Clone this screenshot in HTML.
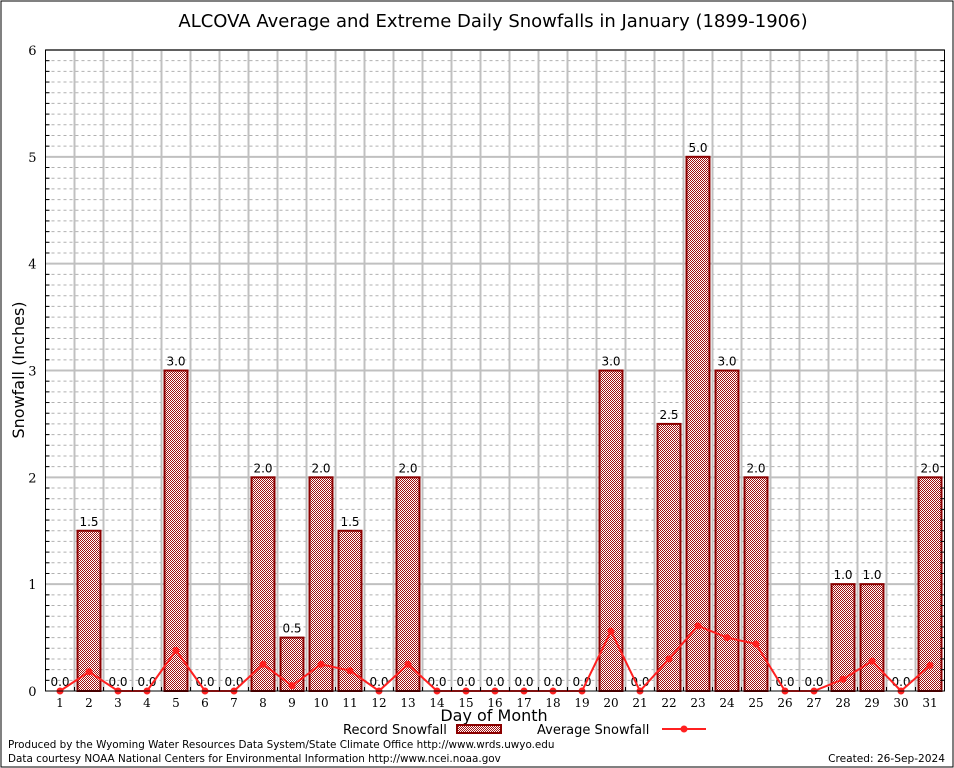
<!DOCTYPE html>
<html><head><meta charset="utf-8"><style>
body{margin:0;background:#fff;}
svg{display:block;font-family:"DejaVu Sans","Liberation Sans",sans-serif;}
</style></head><body>
<svg id="chart" width="954" height="768" viewBox="0 0 954 768">
<defs>
<pattern id="chk" width="2" height="2" patternUnits="userSpaceOnUse">
<rect width="2" height="2" fill="#fff"/>
<rect width="1" height="1" fill="#a01010"/>
<rect x="1" y="1" width="1" height="1" fill="#a01010"/>
</pattern>
</defs>
<rect x="1" y="1" width="952" height="766" fill="#fff" stroke="#000" stroke-width="1"/>
<text x="493" y="27" font-size="18" text-anchor="middle">ALCOVA Average and Extreme Daily Snowfalls in January (1899-1906)</text>
<g id="grid"></g>
<g id="bars"></g>
<g id="line"></g>
<g id="axes"></g>
<text x="24" y="370" font-size="16" text-anchor="middle" transform="rotate(-90 24 370)">Snowfall (Inches)</text>
<text x="494" y="721" font-size="16" text-anchor="middle">Day of Month</text>
<g>
<text x="343" y="734" font-size="13">Record Snowfall</text>
<rect x="457" y="725" width="44" height="8" fill="url(#chk)" stroke="#8b0000" stroke-width="2"/>
<text x="537" y="734" font-size="13">Average Snowfall</text>
<line x1="662" y1="729" x2="706" y2="729" stroke="#ff2020" stroke-width="2"/>
<circle cx="684" cy="729" r="3.5" fill="#ff2020"/>
</g>
<text x="8" y="748" font-size="10.4">Produced by the Wyoming Water Resources Data System/State Climate Office http://www.wrds.uwyo.edu</text>
<text x="8" y="762" font-size="10.4">Data courtesy NOAA National Centers for Environmental Information http://www.ncei.noaa.gov</text>
<text x="945" y="762" font-size="10.6" text-anchor="end">Created: 26-Sep-2024</text>
</svg>
<script>
const days = [1,2,3,4,5,6,7,8,9,10,11,12,13,14,15,16,17,18,19,20,21,22,23,24,25,26,27,28,29,30,31];
const recordSnow = [0,1.5,0,0,3,0,0,2,0.5,2,1.5,0,2,0,0,0,0,0,0,3,0,2.5,5,3,2,0,0,1,1,0,2];
const avgSnow = [0,0.18,0,0,0.38,0,0,0.25,0.05,0.25,0.19,0,0.25,0,0,0,0,0,0,0.56,0,0.30,0.61,0.50,0.44,0,0,0.11,0.28,0,0.24];
const yTicks = [0,1,2,3,4,5,6];

const NS="http://www.w3.org/2000/svg";
const L=45.5,R=944.5,T=50,B=691;
const yMax=6;
function xS(d){return L+(d-0.5)*(R-L)/days.length;}
function yS(v){return B-v*(B-T)/yMax;}
function mk(tag,attrs,parent){const e=document.createElementNS(NS,tag);for(const k in attrs)e.setAttribute(k,attrs[k]);parent.appendChild(e);return e;}
const grid=document.getElementById('grid'),bars=document.getElementById('bars'),line=document.getElementById('line'),axes=document.getElementById('axes');

for(let i=1;i<yMax*10;i++){
  if(i%10===0)continue;
  const g=mk('line',{x1:L,x2:R,y1:yS(i/10),y2:yS(i/10),stroke:'#b0b0b0','stroke-width':1,'stroke-dasharray':'3,3'},grid);
  
  
}
yTicks.forEach(v=>{
  if(v>0){const g=mk('line',{x1:L,x2:R,y1:yS(v),y2:yS(v),stroke:'#c0c0c0','stroke-width':2},grid);
  
  }
  const t=mk('text',{x:L-9,y:yS(v)+5,'font-size':13,'text-anchor':'end','font-family':'"DejaVu Serif","Liberation Serif",serif'},axes);
  t.textContent=v;
  
  
  for(let m=1;m<10&&v<yMax;m++){
    const yy=yS(v+m/10);
    mk('line',{x1:L,x2:L+4,y1:yy,y2:yy,stroke:'#000'},axes);mk('line',{x1:R,x2:R-4,y1:yy,y2:yy,stroke:'#000'},axes);
  }
});
days.forEach((d,i)=>{
  if(i>0){const g=mk('line',{x1:xS(d)-14.5,x2:xS(d)-14.5,y1:T,y2:B,stroke:'#c0c0c0','stroke-width':2},grid);
  
  }
  const v=recordSnow[i];
  if(v>0){
    const b=mk('rect',{x:xS(d)-11.5,y:yS(v),width:23,height:B-yS(v),fill:'url(#chk)',stroke:'#8b0000','stroke-width':2},bars);
    
    
  }
  const lb=mk('text',{x:xS(d),y:yS(v)-5,'font-size':12,'text-anchor':'middle'},bars);
  lb.textContent=v.toFixed(1);
  
  
  const xt=mk('text',{x:xS(d),y:B+16,'font-size':12,'text-anchor':'middle','font-family':'"DejaVu Serif","Liberation Serif",serif'},axes);
  xt.textContent=d;
  
  
  mk('line',{x1:xS(d)-14.5,x2:xS(d)-14.5,y1:B,y2:B-4,stroke:'#000'},axes);
});
const pts=days.map((d,i)=>xS(d)+','+yS(avgSnow[i])).join(' ');
const pl=mk('polyline',{points:pts,fill:'none',stroke:'#ff2020','stroke-width':2},line);


days.forEach((d,i)=>{
  const c=mk('circle',{cx:xS(d),cy:yS(avgSnow[i]),r:3.5,fill:'#ff2020'},line);
  
  
});
const fr=mk('rect',{x:L,y:T,width:R-L,height:B-T,fill:'none',stroke:'#000','stroke-width':1},axes);


</script>
</body></html>
